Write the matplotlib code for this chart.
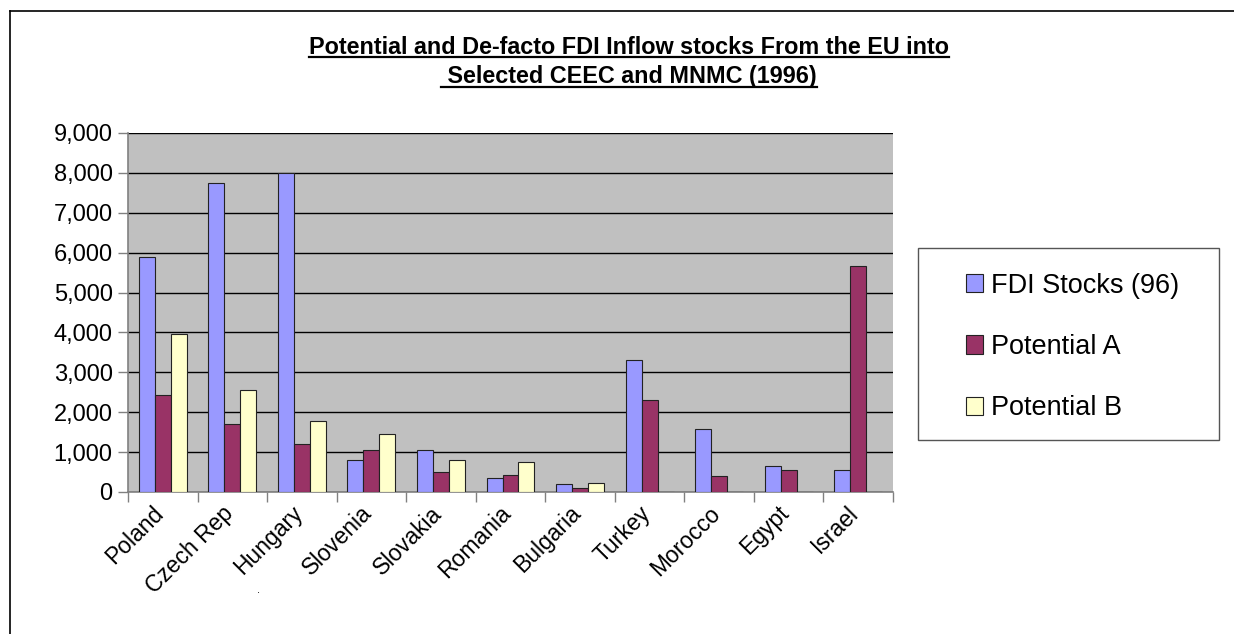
import numpy as np
import matplotlib
matplotlib.use("Agg")
import matplotlib.pyplot as plt
import matplotlib.transforms as mtransforms
from matplotlib.ticker import FuncFormatter
from matplotlib.patches import Rectangle
from matplotlib.lines import Line2D

plt.rcParams['font.family'] = ['Liberation Sans', 'DejaVu Sans']

# data
countries = ['Poland', 'Czech Rep', 'Hungary', 'Slovenia', 'Slovakia', 'Romania',
             'Bulgaria', 'Turkey', 'Morocco', 'Egypt', 'Israel']
fdi_stocks = [5890, 7740, 8000, 800, 1060, 350, 190, 3300, 1590, 645, 545]
potential_a = [2430, 1700, 1200, 1055, 510, 420, 100, 2300, 390, 545, 5670]
potential_b = [3970, 2560, 1780, 1460, 800, 750, 220, 0, 0, 0, 0]
series_names = ['FDI Stocks (96)', 'Potential A', 'Potential B']
colors = ['#9999FF', '#993366', '#FFFFCC']

W, H = 1234, 634
fig = plt.figure(figsize=(W / 100, H / 100), dpi=100)

## plot area
ax = fig.add_axes([128 / W, 1 - 492 / H, (893 - 128) / W, (492 - 133) / H])
ax.set_facecolor('#C0C0C0')

x = np.arange(len(countries))
bw = 0.23
for i, (vals, c) in enumerate(zip([fdi_stocks, potential_a, potential_b], colors)):
    ax.bar(x + (i - 1) * bw, vals, bw, color=c, edgecolor='#222222',
           linewidth=0.8, label=series_names[i], zorder=3)

ax.set_xlim(-0.5, len(countries) - 0.5)
ax.set_ylim(0, 9000)
ax.set_yticks(np.arange(0, 9001, 1000))
ax.yaxis.set_major_formatter(FuncFormatter(lambda v, p: f'{int(v):,}'))
ax.grid(axis='y', color='black', linewidth=1.0, zorder=1)
ax.set_axisbelow(True)

ax.set_xticks(x)
ax.set_xticklabels(countries, rotation=45, ha='right', rotation_mode='anchor')
ax.set_xticks(np.arange(-0.5, len(countries)), minor=True)
ax.tick_params(axis='x', which='major', length=0, pad=7, labelsize=16.5)
ax.tick_params(axis='x', which='minor', length=7, color='#808080', width=1)
ax.tick_params(axis='y', length=7, color='#808080', width=1, labelsize=17, pad=4)
shift = mtransforms.ScaledTranslation(-11 / 100, 0, fig.dpi_scale_trans)
for lab in ax.get_xticklabels():
    lab.set_transform(lab.get_transform() + shift)

for s in ['top', 'right']:
    ax.spines[s].set_visible(False)
for s in ['left', 'bottom']:
    ax.spines[s].set_color('#808080')
    ax.spines[s].set_linewidth(1.2)

## legend box
fig.patches.append(Rectangle((918 / W, 1 - 440 / H), 301 / W, 192 / H,
                             transform=fig.transFigure, facecolor='white',
                             edgecolor='#555555', linewidth=1))
handles, labels = ax.get_legend_handles_labels()
fig.legend(handles, labels, loc='center left', bbox_to_anchor=(952 / W, 1 - 347 / H),
           frameon=False, fontsize=19.5, labelspacing=1.3, handlelength=0.65,
           handleheight=0.65, handletextpad=0.3, borderpad=0)

## title, bold and underlined
title_lines = ['Potential and De-facto FDI Inflow stocks From the EU into',
               ' Selected CEEC and MNMC (1996)']
title_y = [47, 77]
texts = []
for t, yy in zip(title_lines, title_y):
    texts.append(fig.text(629 / W, 1 - yy / H, t, ha='center', va='center',
                          fontsize=16.8, fontweight='bold'))
fig.canvas.draw()
r = fig.canvas.get_renderer()
for tx in texts:
    bb = tx.get_window_extent(r).transformed(fig.transFigure.inverted())
    yl = bb.y0 + 0.002
    fig.add_artist(Line2D([bb.x0, bb.x1], [yl, yl], transform=fig.transFigure,
                          color='black', linewidth=1.6))

## outer chart border (only top and left are visible)
fig.add_artist(Line2D([10 / W, 1], [1 - 11 / H, 1 - 11 / H], transform=fig.transFigure,
                      color='black', linewidth=1.2))
fig.add_artist(Line2D([10 / W, 10 / W], [0, 1 - 11 / H], transform=fig.transFigure,
                      color='black', linewidth=1.2))
fig.text(258 / W, 1 - 590 / H, '.', fontsize=8, ha='center', va='center')

fig.savefig('out.png', dpi=100)
